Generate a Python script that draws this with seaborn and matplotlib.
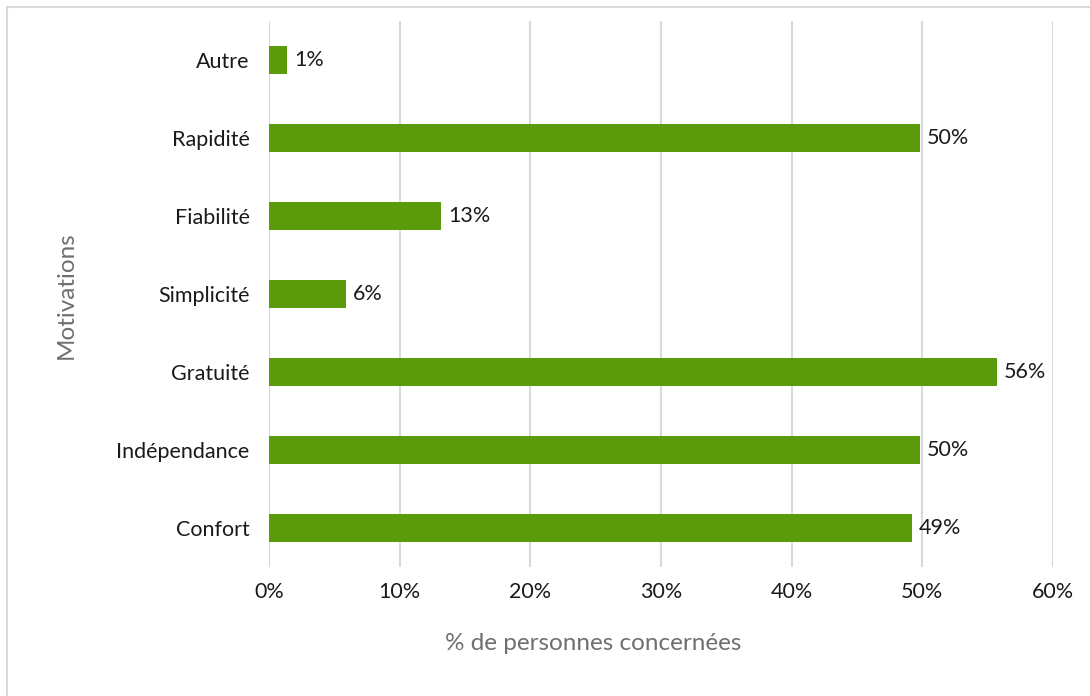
import matplotlib
matplotlib.use("Agg")
import matplotlib.pyplot as plt
from matplotlib.patches import Polygon
from matplotlib.ticker import FuncFormatter
import seaborn as sns
import pandas as pd

# Motivations and share of people concerned (%)
motivations = ["Autre", "Rapidité", "Fiabilité", "Simplicité", "Gratuité", "Indépendance", "Confort"]
shares = [1.4, 49.8, 13.2, 5.9, 55.7, 49.8, 49.2]
x_ticks = [0, 10, 20, 30, 40, 50, 60]

df = pd.DataFrame({"Motivations": motivations, "share": shares})

sns.set_theme(style="white")
plt.rcParams["font.family"] = ["Lato", "DejaVu Sans"]

W, H = 1090, 696
fig = plt.figure(figsize=(W / 100, H / 100), dpi=100)
ax = fig.add_axes([269 / W, 1 - 567 / H, (1053 - 269) / W, (567 - 21) / H])

sns.barplot(data=df, x="share", y="Motivations", order=motivations,
            color="#5B9A0A", saturation=1, width=0.36, linewidth=0, ax=ax, zorder=3)

ax.set_xlim(0, 60)
ax.set_ylim(len(motivations) - 0.5, -0.5)
ax.set_xticks(x_ticks)
ax.xaxis.set_major_formatter(FuncFormatter(lambda v, _: f"{v:.0f}%"))
ax.grid(axis="x", color="#D9D9D9", linewidth=1.5, zorder=0)
ax.grid(axis="y", visible=False)
for s in ax.spines.values():
    s.set_visible(False)
ax.tick_params(axis="both", length=0, labelsize=15.5, labelcolor="#1a1a1a")
ax.tick_params(axis="x", pad=11)
ax.tick_params(axis="y", pad=14)

# value labels
for container in ax.containers:
    ax.bar_label(container, labels=[f"{v:.0f}%" for v in shares],
                 padding=5, fontsize=15.5, color="#1a1a1a")

ax.set_xlabel("% de personnes concernées", fontsize=17.5, color="#6f6f6f")
ax.set_ylabel("Motivations", fontsize=17.5, color="#6f6f6f")
ax.xaxis.set_label_coords((593 - 269) / (1053 - 269), -(643 - 567) / (567 - 21), transform=ax.transAxes)
ax.yaxis.set_label_coords(-(269 - 66) / (1053 - 269), (567 - 295) / (567 - 21), transform=ax.transAxes)
ax.xaxis.label.set_va("center")
ax.yaxis.label.set_va("center")

# chart frame (top and left edges visible)
frame = Polygon([(7 / W, -0.1), (7 / W, 1 - 7 / H), (1.1, 1 - 7 / H)],
                closed=False, fill=False, edgecolor="#D9D9D9", linewidth=1.5,
                transform=fig.transFigure, clip_on=False)
fig.patches.append(frame)

fig.savefig("out.png", dpi=100, facecolor="white")
